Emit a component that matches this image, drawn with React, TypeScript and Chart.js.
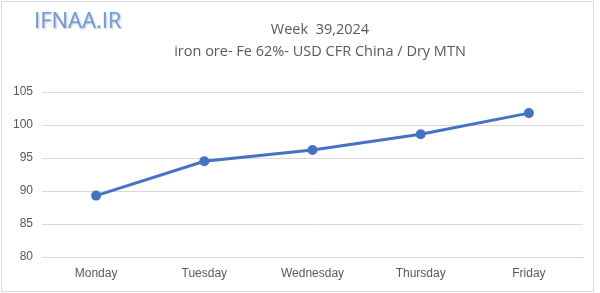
import React, { useEffect, useRef } from "react";
import { Chart, registerables } from "chart.js";

Chart.register(...registerables);

const categories = ["Monday", "Tuesday", "Wednesday", "Thursday", "Friday"];
const prices = [89.3, 94.5, 96.2, 98.6, 101.8];
const yTicks = [80, 85, 90, 95, 100, 105];
const titleLine = "Week  39,2024";
const subtitleLine = "iron ore- Fe 62%- USD CFR China / Dry MTN";
const logoText = "IFNAA.IR";

const headerPlugin = {
  id: "header",
  afterDraw(chart: any) {
    const ctx = chart.ctx;
    ctx.save();
    ctx.textBaseline = "middle";
    ctx.textAlign = "center";
    ctx.fillStyle = "#595959";
    ctx.font = "14.5px 'Open Sans', 'Liberation Sans', sans-serif";
    ctx.fillText(titleLine, 320, 30);
    ctx.fillText(subtitleLine, 320, 52);
    ctx.textAlign = "left";
    ctx.font = "22px 'Open Sans', 'Liberation Sans', sans-serif";
    ctx.shadowColor = "rgba(110,130,160,0.55)";
    ctx.shadowBlur = 2;
    ctx.shadowOffsetX = 1;
    ctx.shadowOffsetY = 1;
    ctx.fillStyle = "#6f9ad6";
    ctx.fillText(logoText, 34, 22);
    ctx.restore();
  },
};

export default function App() {
  const ref = useRef<HTMLCanvasElement | null>(null);
  useEffect(() => {
    document.body.style.margin = "0";
    const canvas = ref.current;
    if (!canvas) return;
    const chart = new Chart(canvas, {
      type: "line",
      data: {
        labels: categories,
        datasets: [
          {
            data: prices,
            borderColor: "#4472c4",
            backgroundColor: "#4472c4",
            borderWidth: 3,
            pointRadius: 3.5,
            pointBackgroundColor: "#4472c4",
            pointBorderColor: "#4472c4",
            tension: 0,
          },
        ],
      },
      options: {
        animation: false,
        responsive: false,
        maintainAspectRatio: false,
        layout: { padding: { top: 92, right: 17, left: 0, bottom: 0 } },
        plugins: { legend: { display: false }, tooltip: { enabled: false } },
        scales: {
          x: {
            offset: true,
            grid: { display: false, drawTicks: false },
            border: { display: false },
            ticks: {
              color: "#595959",
              font: { size: 12, family: "'Liberation Sans', sans-serif" },
              padding: 9,
              maxRotation: 0,
            },
            afterFit(scale: any) {
              scale.height = 36;
            },
          },
          y: {
            min: 80,
            max: 105,
            afterBuildTicks(scale: any) {
              scale.ticks = yTicks.map((v) => ({ value: v }));
            },
            grid: { color: "#d9d9d9", lineWidth: 1, drawTicks: false },
            border: { display: false },
            ticks: {
              color: "#595959",
              font: { size: 12, family: "'Liberation Sans', sans-serif" },
              padding: 9,
            },
            afterFit(scale: any) {
              scale.width = 42;
            },
          },
        },
      },
      plugins: [headerPlugin],
    });
    return () => chart.destroy();
  }, []);
  return (
    <div style={{ position: "relative", width: 600, height: 293, background: "#fff" }}>
      <canvas ref={ref} width={600} height={293} style={{ display: "block" }} />
      <div
        style={{
          position: "absolute",
          left: 1,
          top: 1,
          width: 591,
          height: 289,
          border: "1px solid #d9d9d9",
          pointerEvents: "none",
        }}
      />
    </div>
  );
}
